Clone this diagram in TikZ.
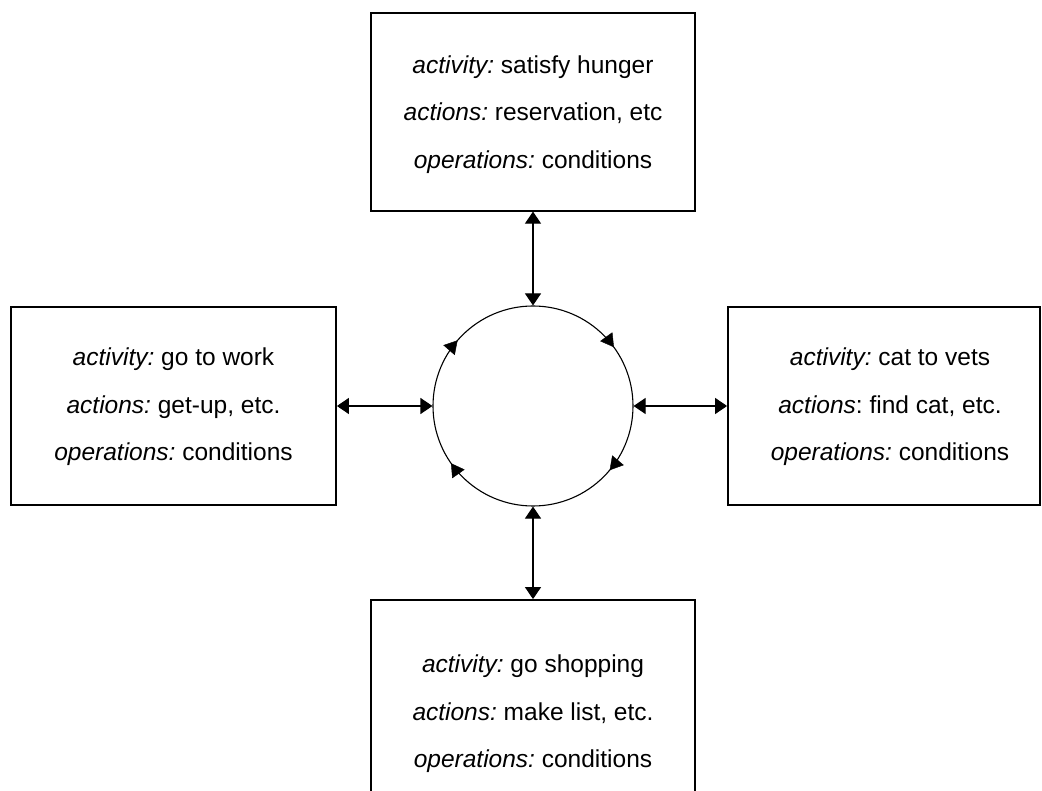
\documentclass[tikz,border=0pt]{standalone}
\usepackage{fontspec}
\setmainfont{Liberation Sans}
\usetikzlibrary{arrows.meta,decorations.markings}
\newcommand{\lbl}[1]{{\itshape #1}}
\begin{document}
\begin{tikzpicture}[x=1pt,y=-1pt,
  box/.style={draw, line width=1.8pt, rectangle, inner sep=0pt},
  txt/.style={anchor=mid, inner sep=0pt, font=\fontsize{24.5}{30}\selectfont\frenchspacing},
  link/.style={line width=1.1pt, {Triangle[length=12pt,width=16pt]}-{Triangle[length=12pt,width=16pt]}},
  ring/.style={draw, circle, line width=1.1pt, minimum size=200pt, inner sep=0pt},
  flow/.style={decorate, decoration={markings,
      mark=at position 0.111 with {\arrow{Triangle[length=13pt,width=15pt]}},
      mark=at position 0.403 with {\arrow{Triangle[length=13pt,width=15pt]}},
      mark=at position 0.614 with {\arrow{Triangle[length=13pt,width=15pt]}},
      mark=at position 0.9 with {\arrow{Triangle[length=13pt,width=15pt]}}}},
]
\clip (0,0) rectangle (1042,791);

% central cycle
\node[ring] (cycle) at (533,406) {};
\path[flow] (cycle.center) ++(0:100) arc[start angle=0, end angle=360, radius=100];

% activity boxes
\node[box, minimum width=324pt, minimum height=198pt] (top) at (533,111.7) {};
\node[box, minimum width=325pt, minimum height=198pt] (left) at (173.5,406) {};
\node[box, minimum width=312pt, minimum height=198pt] (right) at (884,406) {};
\node[box, minimum width=324pt, minimum height=230pt] (bottom) at (533,715) {};

% box texts
\node[txt] (top-a) at (533,70.5) {\lbl{activity:} satisfy hunger};
\node[txt] (top-b) at (533,117.5) {\lbl{actions:} reservation, etc};
\node[txt] (top-c) at (533,165.5) {\lbl{operations:} conditions};

\node[txt] (left-a) at (173.5,362.5) {\lbl{activity:} go to work};
\node[txt] (left-b) at (173.5,410.5) {\lbl{actions:} get-up, etc.};
\node[txt] (left-c) at (173.5,457.5) {\lbl{operations:} conditions};

\node[txt] (right-a) at (890,362.5) {\lbl{activity:} cat to vets};
\node[txt] (right-b) at (890,410.5) {\lbl{actions}: find cat, etc.};
\node[txt] (right-c) at (890,457.5) {\lbl{operations:} conditions};

\node[txt] (bottom-a) at (533,669.5) {\lbl{activity:} go shopping};
\node[txt] (bottom-b) at (533,717.5) {\lbl{actions:} make list, etc.};
\node[txt] (bottom-c) at (533,764.5) {\lbl{operations:} conditions};

% links between boxes and cycle
\draw[link] (top.south) -- (cycle.north);
\draw[link] (bottom.north) -- (cycle.south);
\draw[link] (left.east) -- (cycle.west);
\draw[link] (right.west) -- (cycle.east);
\end{tikzpicture}
\end{document}
